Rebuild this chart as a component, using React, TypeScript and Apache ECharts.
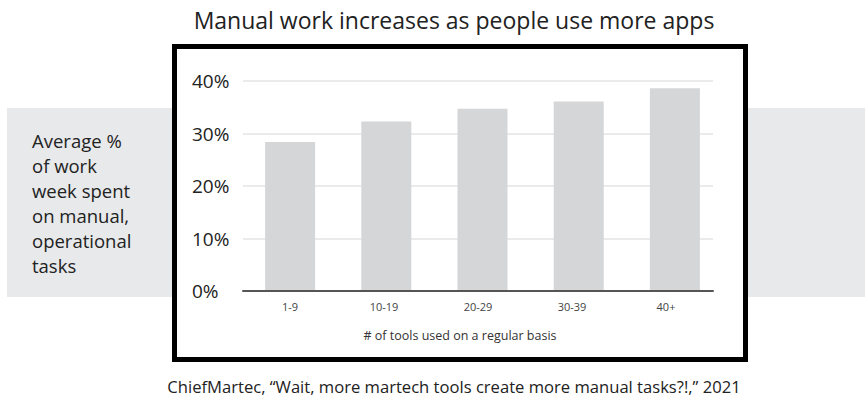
import React, { useEffect, useRef } from "react";
import * as echarts from "echarts";

const categories = ["1-9", "10-19", "20-29", "30-39", "40+"];
const values = [28.4, 32.3, 34.7, 36.1, 38.6];
const yTicks = { min: 0, max: 40, interval: 10 };
const titleText = "Manual work increases as people use more apps";
const xAxisName = "# of tools used on a regular basis";
const yAxisName = "Average %\nof work\nweek spent\non manual,\noperational\ntasks";
const sourceText = "ChiefMartec, \u201cWait, more martech tools create more manual tasks?!,\u201d 2021";

const FONT = "'Open Sans', sans-serif";

export default function App() {
  const ref = useRef<HTMLDivElement>(null);
  useEffect(() => {
    if (!ref.current) return;
    const chart = echarts.init(ref.current, null, { renderer: "svg" });
    chart.setOption({
      animation: false,
      backgroundColor: "#ffffff",
      textStyle: { fontFamily: FONT },
      grid: [
        { left: 243, top: 81, width: 470, height: 210 },
        { left: 242, top: 81, width: 481, height: 210 },
      ],
      xAxis: [
        {
          gridIndex: 0,
          type: "category",
          data: categories,
          axisLine: { lineStyle: { color: "#555555", width: 2 } },
          axisTick: { show: false },
          axisLabel: { color: "#444444", fontSize: 11, margin: 10, fontFamily: FONT },
          z: 3,
        },
        { gridIndex: 1, type: "category", data: categories, show: false },
      ],
      yAxis: [
        {
          gridIndex: 0,
          type: "value",
          min: yTicks.min,
          max: yTicks.max,
          interval: yTicks.interval,
          axisLine: { show: false },
          axisTick: { show: false },
          axisLabel: {
            formatter: "{value}%",
            align: "left",
            margin: 51,
            fontSize: 19,
            color: "#222222",
            fontFamily: FONT,
          },
          splitLine: { lineStyle: { color: "#e4e4e4", width: 1.5 } },
        },
        {
          gridIndex: 1,
          type: "value",
          min: yTicks.min,
          max: yTicks.max,
          interval: yTicks.interval,
          show: false,
          splitLine: { show: false },
        },
      ],
      series: [
        {
          type: "bar",
          xAxisIndex: 1,
          yAxisIndex: 1,
          data: values,
          barWidth: 50,
          itemStyle: { color: "#d5d6d8" },
          z: 2,
        },
      ],
      graphic: [
        {
          type: "rect",
          z: -10,
          shape: { x: 7, y: 108, width: 858, height: 189 },
          style: { fill: "#e8e9eb" },
        },
        {
          type: "rect",
          z: -9,
          shape: { x: 174.5, y: 46.5, width: 571, height: 313 },
          style: { fill: "#ffffff", stroke: "#000000", lineWidth: 5 },
        },
        {
          type: "text",
          x: 454,
          y: 20,
          style: {
            text: titleText,
            fontSize: 23,
            fontFamily: FONT,
            fill: "#222222",
            textAlign: "center",
            textVerticalAlign: "middle",
          },
        },
        {
          type: "text",
          x: 32,
          y: 127.5,
          style: {
            text: yAxisName,
            fontSize: 18.5,
            lineHeight: 25,
            fontFamily: FONT,
            fill: "#222222",
            textAlign: "left",
          },
        },
        {
          type: "text",
          x: 460,
          y: 335,
          style: {
            text: xAxisName,
            fontSize: 12.5,
            fontFamily: FONT,
            fill: "#333333",
            textAlign: "center",
            textVerticalAlign: "middle",
          },
        },
        {
          type: "text",
          x: 454,
          y: 386,
          style: {
            text: sourceText,
            fontSize: 16.6,
            fontFamily: FONT,
            fill: "#222222",
            textAlign: "center",
            textVerticalAlign: "middle",
          },
        },
      ],
    });
    return () => chart.dispose();
  }, []);
  return (
    <div
      ref={ref}
      style={{ position: "fixed", left: 0, top: 0, width: 865, height: 396 }}
    />
  );
}
